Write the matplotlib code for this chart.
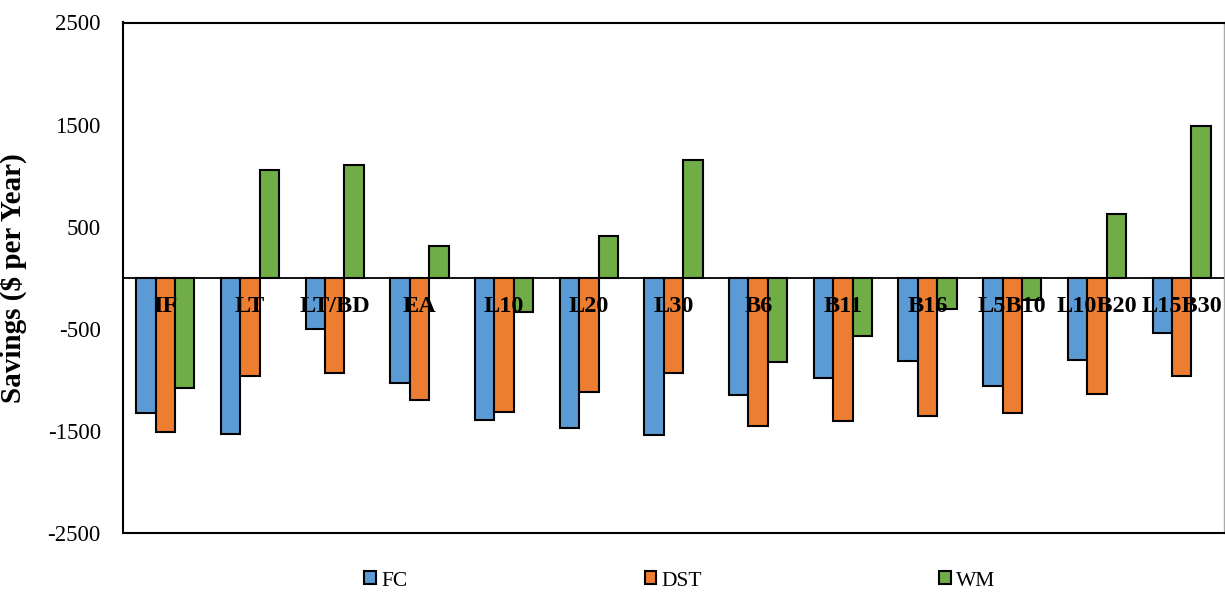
import matplotlib
matplotlib.use("Agg")
import matplotlib.pyplot as plt
import numpy as np

plt.rcParams["font.family"] = ["Liberation Serif", "DejaVu Serif"]

# Annual savings per scenario and strategy
categories = ["IF", "LT", "LT/BD", "EA", "L10", "L20", "L30",
              "B6", "B11", "B16", "L5B10", "L10B20", "L15B30"]
fc = [-1327, -1526, -502, -1030, -1392, -1468, -1536,
      -1151, -978, -815, -1060, -802, -544]
dst = [-1507, -959, -929, -1197, -1311, -1122, -933,
       -1451, -1406, -1350, -1321, -1138, -959]
wm = [-1079, 1057, 1103, 313, -333, 408, 1158,
      -828, -567, -310, -218, 623, 1484]
series_names = ["FC", "DST", "WM"]
colors = ["#5B9BD5", "#ED7D31", "#70AD47"]
yticks = [-2500, -1500, -500, 500, 1500, 2500]

fig = plt.figure(figsize=(12.25, 5.94), dpi=100)
ax = fig.add_axes([123 / 1225, 1 - 533 / 594, 1101 / 1225, (533 - 22.5) / 594])

x = np.arange(len(categories))
w = 0.229
for i, (vals, name, col) in enumerate(zip([fc, dst, wm], series_names, colors)):
    ax.bar(x + (i - 1) * w, vals, width=w, color=col, edgecolor="black",
           linewidth=1.5, label=name, zorder=2)

ax.axhline(0, color="black", linewidth=1.3, zorder=3)

for xi, lab in zip(x, categories):
    ax.annotate(lab, xy=(xi, 0), xytext=(0, -29), textcoords="offset pixels",
                ha="center", va="center", fontsize=17.5, fontweight="bold",
                zorder=5)

ax.set_xlim(-0.5, len(categories) - 0.5)
ax.set_ylim(-2500, 2500)
ax.set_yticks(yticks)
ax.set_yticklabels([str(t) for t in yticks], fontsize=16.5)
ax.tick_params(axis="y", length=0, pad=16)
ax.set_xticks([])

for s in ["left", "top", "bottom"]:
    ax.spines[s].set_linewidth(1.5)
    ax.spines[s].set_color("black")
ax.spines["right"].set_color("#AAAAAA")
ax.spines["right"].set_linewidth(1.0)

ax.set_ylabel("Savings ($ per Year)", fontsize=21, fontweight="bold")
ax.yaxis.set_label_coords(-(123 - 27) / 1101, 0.5)

fig.legend(loc="center", bbox_to_anchor=(680 / 1225, 1 - 581 / 594), ncol=3,
           frameon=False, fontsize=15.5, handlelength=0.55, handleheight=0.55,
           handletextpad=0.25, columnspacing=11.0)

fig.savefig("out.png", dpi=100)
